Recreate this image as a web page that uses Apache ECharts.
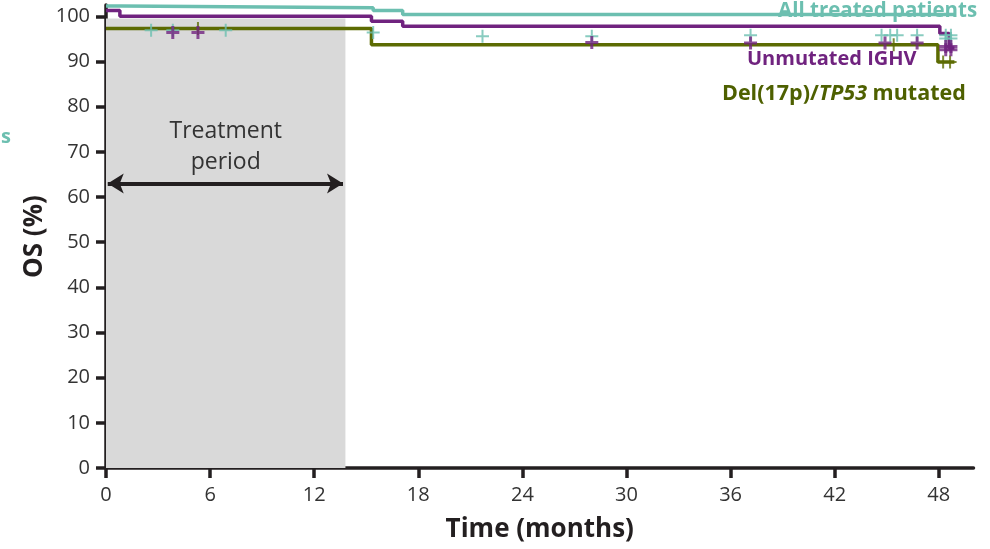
<!DOCTYPE html>
<html>
<head>
<meta charset="utf-8">
<script src="https://cdn.jsdelivr.net/npm/echarts@6/dist/echarts.min.js"></script>
<style>
  html, body { margin: 0; padding: 0; background: #fff; }
  #chart { width: 990px; height: 549px; }
</style>
</head>
<body>
<div id="chart"></div>
<script>
// KM step curves: [month, OS %]
var allTreated = [[0, 102.3], [0.9, 101.9], [15.4, 101.3], [17.1, 100.4], [48.9, 100.4]];
var unmutated = [[0, 101.3], [0.8, 100.0], [15.3, 98.9], [17.1, 97.8], [48.06, 96.2], [48.6, 93.0], [48.9, 93.0]];
var del17p = [[0, 97.3], [15.3, 93.7], [47.95, 89.9], [48.9, 89.9]];

// censoring marks
var allTreatedCens = [[2.6, 96.9], [3.85, 96.9], [6.9, 96.9], [15.4, 96.4], [21.7, 95.6], [28.0, 95.6],
  [37.15, 95.8], [44.7, 95.8], [45.2, 95.8], [45.6, 95.8], [46.75, 95.8], [48.4, 95.8], [48.7, 95.8],
  [48.4, 95.1], [48.7, 95.1]];
var unmutatedCens = [[3.85, 96.4], [5.3, 96.4], [28.0, 94.2], [37.15, 94.1], [44.9, 94.1], [46.75, 94.1],
  [48.4, 93.3], [48.7, 93.3], [48.4, 92.6], [48.7, 92.6]];
var del17pCens = [[5.3, 97.3], [45.4, 93.7], [48.25, 89.9], [48.65, 89.9]];

var xTicks = [0, 6, 12, 18, 24, 30, 36, 42, 48];
var yTicks = [0, 10, 20, 30, 40, 50, 60, 70, 80, 90, 100];
var treatmentEnd = 13.8;

var teal = '#6cbfb0', purple = '#70237f', olive = '#5c6b02', ink = '#231f20';
var plus = 'path://M5.5,0H7.5V5.5H13V7.5H7.5V13H5.5V7.5H0V5.5H5.5Z';
var plusBold = 'path://M5,0H8V5H13V8H8V13H5V8H0V5H5Z';

var chart = echarts.init(document.getElementById('chart'));
chart.setOption({
  animation: false,
  grid: { left: 106, right: 16.5, top: 5, bottom: 81 },
  xAxis: {
    type: 'value', min: 0, max: 50,
    name: 'Time (months)', nameLocation: 'middle', nameGap: 49,
    nameTextStyle: { fontFamily: 'Open Sans', fontWeight: 'bold', fontSize: 26, color: ink },
    axisLine: { lineStyle: { color: ink, width: 3.5 } },
    axisTick: { show: true, length: 10, lineStyle: { color: ink, width: 3.5 }, customValues: xTicks },
    axisLabel: { customValues: xTicks, margin: 17, fontFamily: 'Open Sans', fontSize: 20, color: '#333' },
    splitLine: { show: false }
  },
  yAxis: {
    type: 'value', min: 0, max: 102.5,
    name: 'OS (%)', nameLocation: 'middle', nameGap: 58, nameRotate: 90, nameMoveOverlap: false,
    nameTextStyle: { fontFamily: 'Open Sans', fontWeight: 'bold', fontSize: 26, color: ink },
    axisLine: { show: true, lineStyle: { color: ink, width: 3.5 } },
    axisTick: { show: true, length: 10, lineStyle: { color: ink, width: 3.5 }, customValues: yTicks },
    axisLabel: { customValues: yTicks, margin: 16, fontFamily: 'Open Sans', fontSize: 20, color: '#333' },
    splitLine: { show: false }
  },
  graphic: [
    { type: 'text', left: 778, top: 1, z: 0,
      style: { text: 'All treated patients', fill: teal, font: 'bold 20.5px "Open Sans"' } },
    { type: 'text', left: 747, top: 49, z: 0,
      style: { text: 'Unmutated IGHV', fill: purple, font: 'bold 20px "Open Sans"' } },
    { type: 'text', left: 722, top: 83, z: 0,
      style: {
        text: '{a|Del(17p)/}{b|TP53}{a| mutated}',
        rich: {
          a: { fill: '#4e6000', font: 'bold 21.5px "Open Sans"' },
          b: { fill: '#4e6000', font: 'italic bold 21.5px "Open Sans"' }
        }
      } },
    { type: 'text', left: 1, top: 127, z: 0,
      style: { text: 's', fill: teal, font: 'bold 20px "Open Sans"' } }
  ],
  series: [
    {
      type: 'line', step: 'end', data: allTreated, showSymbol: false,
      lineStyle: { color: teal, width: 3.5 }, z: 3,
      markArea: {
        silent: true,
        itemStyle: { color: '#d9d9d9' },
        label: {
          show: true, position: 'insideTop', distance: 97,
          formatter: 'Treatment\nperiod', fontFamily: 'Open Sans', fontSize: 23,
          lineHeight: 31, color: '#333'
        },
        data: [[{ coord: [0, 0] }, { coord: [treatmentEnd, 99.5] }]]
      },
      markLine: {
        silent: true, symbol: ['arrow', 'arrow'], symbolSize: [15, 16],
        lineStyle: { color: ink, width: 4, type: 'solid' },
        label: { show: false },
        data: [[{ coord: [0.1, 63] }, { coord: [13.66, 63] }]]
      }
    },
    {
      type: 'line', step: 'end', data: unmutated, showSymbol: false,
      lineStyle: { color: purple, width: 3.5 }, z: 3
    },
    {
      type: 'line', step: 'end', data: del17p, showSymbol: false,
      lineStyle: { color: olive, width: 3.5 }, z: 3
    },
    {
      type: 'scatter', data: allTreatedCens, symbol: plus, symbolSize: 13,
      itemStyle: { color: teal }, z: 4
    },
    {
      type: 'scatter', data: del17pCens, symbol: plus, symbolSize: 13,
      itemStyle: { color: olive }, z: 4
    },
    {
      type: 'scatter', data: unmutatedCens, symbol: plusBold, symbolSize: 13,
      itemStyle: { color: purple }, z: 5
    }
  ]
});
</script>
</body>
</html>
